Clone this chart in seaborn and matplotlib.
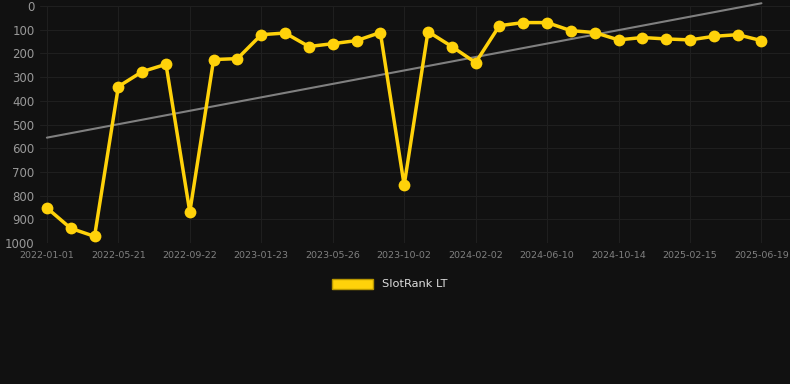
import numpy as np
import pandas as pd
import matplotlib
matplotlib.use('Agg')
import matplotlib.pyplot as plt
import seaborn as sns
from matplotlib.patches import Patch

# rank per snapshot (lower is better), 31 snapshots
ranks = [852, 938, 972, 340, 277, 246, 869, 226, 222, 121, 114, 171, 159, 146, 112,
         756, 108, 171, 239, 83, 70, 70, 104, 112, 143, 133, 139, 143, 128, 121, 146]
tick_labels = ['2022-01-01', '2022-05-21', '2022-09-22', '2023-01-23', '2023-05-26',
               '2023-10-02', '2024-02-02', '2024-06-10', '2024-10-14', '2025-02-15',
               '2025-06-19']
series_name = 'SlotRank LT'

bg = '#111111'
gold = '#FFD20A'

df = pd.DataFrame({'idx': np.arange(len(ranks)), 'rank': ranks})

sns.set_style('dark')
plt.rcParams['font.family'] = ['DejaVu Sans']

fig = plt.figure(figsize=(7.9, 3.84), dpi=100, facecolor=bg)
ax = fig.add_axes([40 / 790, 141 / 384, 750 / 790, 237 / 384], facecolor=bg)

# trend line from a linear fit
coef = np.polyfit(df['idx'], df['rank'], 1)
ax.plot(df['idx'], np.polyval(coef, df['idx']), color='#808080', lw=1.5, zorder=2,
        clip_on=False)

sns.lineplot(data=df, x='idx', y='rank', ax=ax, color=gold, lw=2.5, marker='o',
             markersize=8.5, markeredgewidth=0, zorder=3, clip_on=False)

ax.set_xlim(-0.29, 31.2)
ax.set_ylim(1000, 0)
ax.set_yticks(range(0, 1001, 100))
ax.set_xticks(np.arange(0, len(ranks), 3))
ax.set_xticklabels(tick_labels)
ax.grid(True, color='#1f1f1f', lw=0.8)
for s in ax.spines.values():
    s.set_visible(False)
ax.tick_params(axis='y', colors='#999999', labelsize=8.5, length=0, pad=4)
ax.tick_params(axis='x', colors='#808080', labelsize=6.8, length=0, pad=6)
ax.set_xlabel('')
ax.set_ylabel('')

fig.legend([Patch(facecolor=gold, edgecolor='#b89600')], [series_name],
           loc='center', bbox_to_anchor=(390 / 790, 1 - 284 / 384), frameon=False,
           handlelength=3.6, handleheight=1.0, fontsize=8.2, labelcolor='#dddddd')

fig.savefig('out.png', dpi=100, facecolor=bg)
